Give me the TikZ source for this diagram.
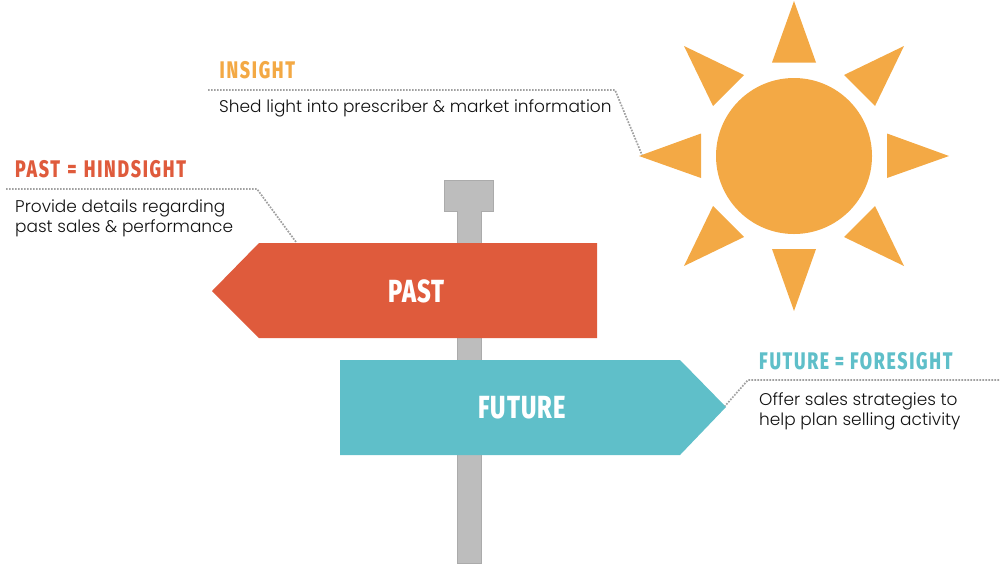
\documentclass[tikz,border=0pt]{standalone}
\usepackage{fontspec}
\setmainfont{Poppins Light}
\newfontfamily\headf[FakeStretch=0.74,LetterSpace=7]{Fira Sans ExtraBold}
\newfontfamily\signf[FakeStretch=0.74,LetterSpace=3]{Fira Sans ExtraBold}
\definecolor{sunc}{HTML}{F3A945}
\definecolor{pastc}{HTML}{DF5B3C}
\definecolor{futc}{HTML}{5FBFC9}
\definecolor{postc}{HTML}{BDBDBD}
\definecolor{postl}{HTML}{ABABAB}
\definecolor{dotc}{HTML}{A0A0A0}
\definecolor{txt}{HTML}{111111}
\tikzset{
  ray/.style={fill=sunc,draw=none},
  leader/.style={draw=dotc,line width=1.7pt,dash pattern=on 1.7pt off 1.3pt},
  body/.style={inner sep=0pt,anchor=north west,align=left,text=txt,font=\fontsize{16.95}{20.3}\selectfont},
  head/.style={inner sep=0pt,anchor=base west,font=\headf\fontsize{24}{24}\selectfont},
  sign/.style={inner sep=0pt,anchor=base,text=white,font=\signf\fontsize{32}{32}\selectfont},
  post/.style={fill=postc,draw=postl,line width=0.8pt}
}
\begin{document}
\begin{tikzpicture}[x=1pt,y=-1pt]
\useasboundingbox (0,0) rectangle (1000,563);
% post
\draw[post] (457.5,205) rectangle (481.5,563);
\draw[post] (444.5,180.5) rectangle (493.5,211);
\fill[postc] (458,209) rectangle (481,213);
% signs
\fill[pastc] (212,291) -- (259,243) -- (597,243) -- (597,338) -- (259,338) -- cycle;
\fill[futc] (340,360) -- (680,360) -- (726,407) -- (680,455) -- (340,455) -- cycle;
\node[sign] (pastlabel) at (416.5,302) {PAST};
\node[sign] (futurelabel) at (522,418) {FUTURE};
% sun
\fill[sunc] (794,156) circle (78);
\fill[ray] (794,1) -- (816,62.5) -- (772,62.5) -- cycle;
\fill[ray] (794,311) -- (816,249) -- (772,249) -- cycle;
\fill[ray] (639,156) -- (701,133.5) -- (701,178) -- cycle;
\fill[ray] (949,156) -- (887,133.5) -- (887,178) -- cycle;
\fill[ray] (684,46) -- (744,75) -- (713,106) -- cycle;
\fill[ray] (904,46) -- (844,75) -- (875,106) -- cycle;
\fill[ray] (684,266) -- (744,237) -- (713,206) -- cycle;
\fill[ray] (904,266) -- (844,237) -- (875,206) -- cycle;
% leader anchors
\coordinate (ia) at (208,90);
\coordinate (ib) at (615,90);
\coordinate (ic) at (642,155);
\coordinate (pa) at (6,189);
\coordinate (pb) at (257,189);
\coordinate (pc) at (296,242);
\coordinate (fa) at (999,380);
\coordinate (fb) at (748,380);
\coordinate (fc) at (725,406);
\draw[leader] (ia) -- (ib) -- (ic);
\draw[leader] (pa) -- (pb) -- (pc);
\draw[leader] (fa) -- (fb) -- (fc);
% texts
\node[head,text=sunc] (insight) at (219.5,78) {INSIGHT};
\node[head,text=pastc] (pasthead) at (15,177) {PAST\hspace{1.5pt} = \hspace{1.5pt}HINDSIGHT};
\node[head,text=futc] (futhead) at (759,369.5) {FUTURE = FORESIGHT};
\node[body] (insightbody) at (219,99.7) {Shed light into prescriber \& market information};
\node[body] (pastbody) at (15,199.3) {Provide details regarding\\past sales \& performance};
\node[body] (futbody) at (759,392.3) {Offer sales strategies to\\help plan selling activity};
\end{tikzpicture}
\end{document}
